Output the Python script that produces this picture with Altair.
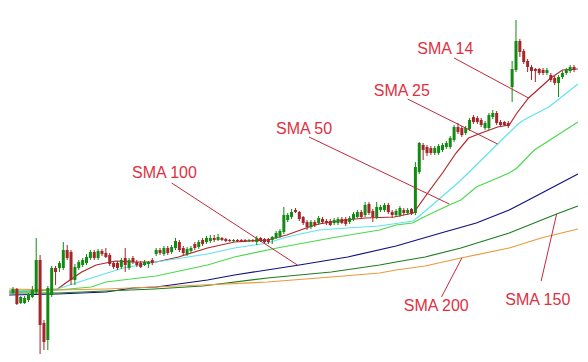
import altair as alt
import pandas as pd

# ---- candle data (bar number, OHLC prices) ----
opens = [69,73,59,59,62,65,70,102,39,22,
         67,94,94,94,112,110,82,94,97,99,
         104,110,104,111,109,107,99,99,95,104,
         94,104,100,99,97,98,102,108,112,108,
         114,110,114,120,114,108,111,118,115,122,
         120,121,124,122,124,123,122,121,122,122,
         122,121,122,120,124,123,123,122,124,126,
         130,142,145,152,150,145,140,135,140,139,
         143,141,141,139,139,143,143,140,143,145,
         150,147,158,151,145,152,152,157,150,147,
         147,152,149,153,149,190,217,215,214,209,
         209,212,215,215,222,235,234,229,233,245,
         244,242,234,234,245,249,240,240,239,275,
         292,321,311,301,295,293,293,292,289,287,
         284,279,285,289,291,295]
closes = [73,58,65,64,68,72,102,37,20,74,
          94,90,99,112,104,82,95,100,102,105,
          110,104,111,108,105,98,95,94,102,97,
          102,100,97,95,100,100,99,112,109,114,
          109,115,121,112,109,113,114,114,120,118,
          124,124,122,125,122,121,121,122,121,121,
          121,122,121,124,121,120,120,125,129,131,
          147,147,150,150,143,139,135,140,137,144,
          140,139,137,142,143,139,138,144,148,150,
          145,157,149,145,155,155,157,150,147,151,
          154,149,152,149,195,219,212,209,209,214,
          216,217,219,224,235,230,227,234,242,240,
          240,237,239,247,249,239,237,237,236,293,
          321,310,300,295,291,291,289,289,292,282,
          279,285,289,292,295,292]
highs = [75,74,66,66,69,76,124,107,42,76,
         96,96,101,120,117,112,98,102,104,108,
         112,112,113,113,114,109,101,101,104,114,
         104,106,102,101,102,101,104,114,114,116,
         116,117,124,122,116,115,116,120,122,124,
         126,127,127,128,125,124,123,123,123,123,
         123,123,123,126,125,124,124,126,131,133,
         155,149,153,154,151,146,142,142,142,146,
         145,143,143,144,145,145,145,146,150,152,
         152,160,160,153,160,157,159,159,152,153,
         156,154,154,154,200,220,219,217,216,216,
         218,219,221,226,237,239,236,236,244,247,
         246,244,241,249,252,251,242,241,241,301,
         342,323,313,303,297,294,294,294,294,289,
         286,287,291,294,297,297]
lows = [68,57,58,58,60,64,68,2,12,12,
        65,77,90,92,102,77,77,92,95,97,
        102,102,102,106,104,96,93,92,93,90,
        92,98,95,94,96,94,97,106,107,106,
        107,108,112,110,107,106,109,112,113,116,
        118,119,120,121,121,120,120,120,120,120,
        120,120,120,117,120,119,118,118,123,124,
        128,140,143,149,141,137,132,133,135,137,
        138,137,136,137,137,138,136,138,141,144,
        143,145,147,140,143,150,150,148,144,145,
        145,147,147,147,147,188,202,206,207,207,
        207,210,213,213,220,228,225,227,231,238,
        238,235,232,232,243,237,235,236,234,260,
        290,305,298,290,282,280,287,287,287,280,
        277,265,283,287,289,290]

# ---- moving averages (bar number, value) ----
sma14_n = [0,7.5,12.5,15,18.75,22.5,27.5,32,38,43.75,51.25,58.25,66.75,71.75,76.75,80,87,92,99.5,104.5,108.75,112,115.5,118.75,122,126.25,129.25,131.25,134.25,138,140,143,147]
sma14_v = [71,71,73,80,90,97,101,100,100,105,114,120,122,127,134,138,142,144,145,149,172,189,209,224,229,235,237,249,264,277,284,292,293]
sma25_n = [0,12.5,21.25,29.5,38,46.25,51.25,58.25,66.75,71.75,80,87.5,95.5,104.5,108.75,116.25,126.25,131.25,133,139.5,147]
sma25_v = [71,73,84,94,100,105,108,114,119,125,132,134,136,141,155,180,218,237,242,255,278]
sma50_n = [0,12.5,21.25,25,38,51.25,58.25,69.25,83.25,95.75,100,104.25,108.25,113.75,116.75,120.75,129.25,131.25,135.75,147]
sma50_v = [70,72,75,80,86,97,105,114,124,132,137,139,147,157,162,175,189,194,212,240]
sma100_n = [0,12.5,25,32,38,43.75,51.25,58.25,75,87.5,100,112.5,120.75,129.25,133.25,147]
sma100_v = [67,68,70,74,75,78,82,87,97,105,116,130,139,152,160,188]
sma150_n = [0,12.5,25,37.5,50,66.75,83.25,95.75,100,107.5,116.75,129.25,141.5,147]
sma150_v = [69,69,71,73,76,84,90,97,100,105,114,129,148,156]
sma200_n = [0,12.5,25,37.5,50,66.75,83.25,95.75,100,107.5,116.75,129.25,137.5,147]
sma200_v = [73,72,73,75,77,80,85,89,92,96,104,114,124,133]

# ---- annotations ----
ann_labels = ["SMA 14", "SMA 25", "SMA 50", "SMA 100", "SMA 200", "SMA 150"]
ann_text_n = [105.5, 94.25, 69, 31.75, 102, 128.25]
ann_text_v = [308, 266, 228, 184, 51, 57]
ann_from_n = [115, 103, 77.5, 42, 111.75, 137.5]
ann_from_v = [304, 263, 225, 179, 65, 81]
ann_to_n = [134.25, 126.25, 113.75, 74.5, 117, 141.5]
ann_to_v = [264, 218, 158, 97, 104, 148]

series_names = ["SMA 14", "SMA 25", "SMA 50", "SMA 100", "SMA 150", "SMA 200"]
series_colors = ["#b3262b", "#5fe3ea", "#4cd94c", "#10107f", "#1f7d1f", "#e89a3c"]

# ---- tables ----
candles = pd.DataFrame({
    "n": list(range(1, len(opens) + 1)),
    "open": opens, "close": closes, "high": highs, "low": lows,
})
candles["dir"] = ["up" if c >= o else "down" for o, c in zip(opens, closes)]

rows = []
for name, ns, vs in [("SMA 14", sma14_n, sma14_v), ("SMA 25", sma25_n, sma25_v),
                     ("SMA 50", sma50_n, sma50_v), ("SMA 100", sma100_n, sma100_v),
                     ("SMA 150", sma150_n, sma150_v), ("SMA 200", sma200_n, sma200_v)]:
    for a, b in zip(ns, vs):
        rows.append({"series": name, "n": a, "v": b})
sma = pd.DataFrame(rows)

ann = pd.DataFrame({
    "label": ann_labels, "tn": ann_text_n, "tv": ann_text_v,
    "n1": ann_from_n, "v1": ann_from_v, "n2": ann_to_n, "v2": ann_to_v,
})

xs = alt.Scale(domain=[1, 146.25], nice=False, zero=False)
ys = alt.Scale(domain=[8, 354], nice=False, zero=False)
cdir = alt.Color("dir:N", scale=alt.Scale(domain=["up", "down"], range=["#138a13", "#a52528"]), legend=None)

lines = alt.Chart(sma).mark_line(strokeWidth=1.2).encode(
    x=alt.X("n:Q", scale=xs, axis=None),
    y=alt.Y("v:Q", scale=ys, axis=None),
    color=alt.Color("series:N", scale=alt.Scale(domain=series_names, range=series_colors), legend=None),
)

wicks = alt.Chart(candles).mark_rule(strokeWidth=1).encode(
    x=alt.X("n:Q", scale=xs, axis=None),
    y=alt.Y("low:Q", scale=ys, axis=None),
    y2="high:Q",
    color=cdir,
)
bodies = alt.Chart(candles).mark_bar(size=3).encode(
    x=alt.X("n:Q", scale=xs, axis=None),
    y=alt.Y("open:Q", scale=ys, axis=None),
    y2="close:Q",
    color=cdir,
)

pointers = alt.Chart(ann).mark_rule(strokeWidth=1, color="#c4283a").encode(
    x=alt.X("n1:Q", scale=xs, axis=None),
    y=alt.Y("v1:Q", scale=ys, axis=None),
    x2="n2:Q",
    y2="v2:Q",
)
texts = alt.Chart(ann).mark_text(
    align="left", baseline="alphabetic", font="Liberation Sans", fontSize=16, color="#e0303f"
).encode(
    x=alt.X("tn:Q", scale=xs, axis=None),
    y=alt.Y("tv:Q", scale=ys, axis=None),
    text="label:N",
)

chart = alt.layer(lines, wicks, bodies, pointers, texts).resolve_scale(color="independent").properties(
    width=572, height=346,
    autosize=alt.AutoSizeParams(type="none"),
    padding=0, background="white",
).configure_view(stroke=None)

chart.save("out.html", embed_options={"renderer": "svg", "actions": False})
